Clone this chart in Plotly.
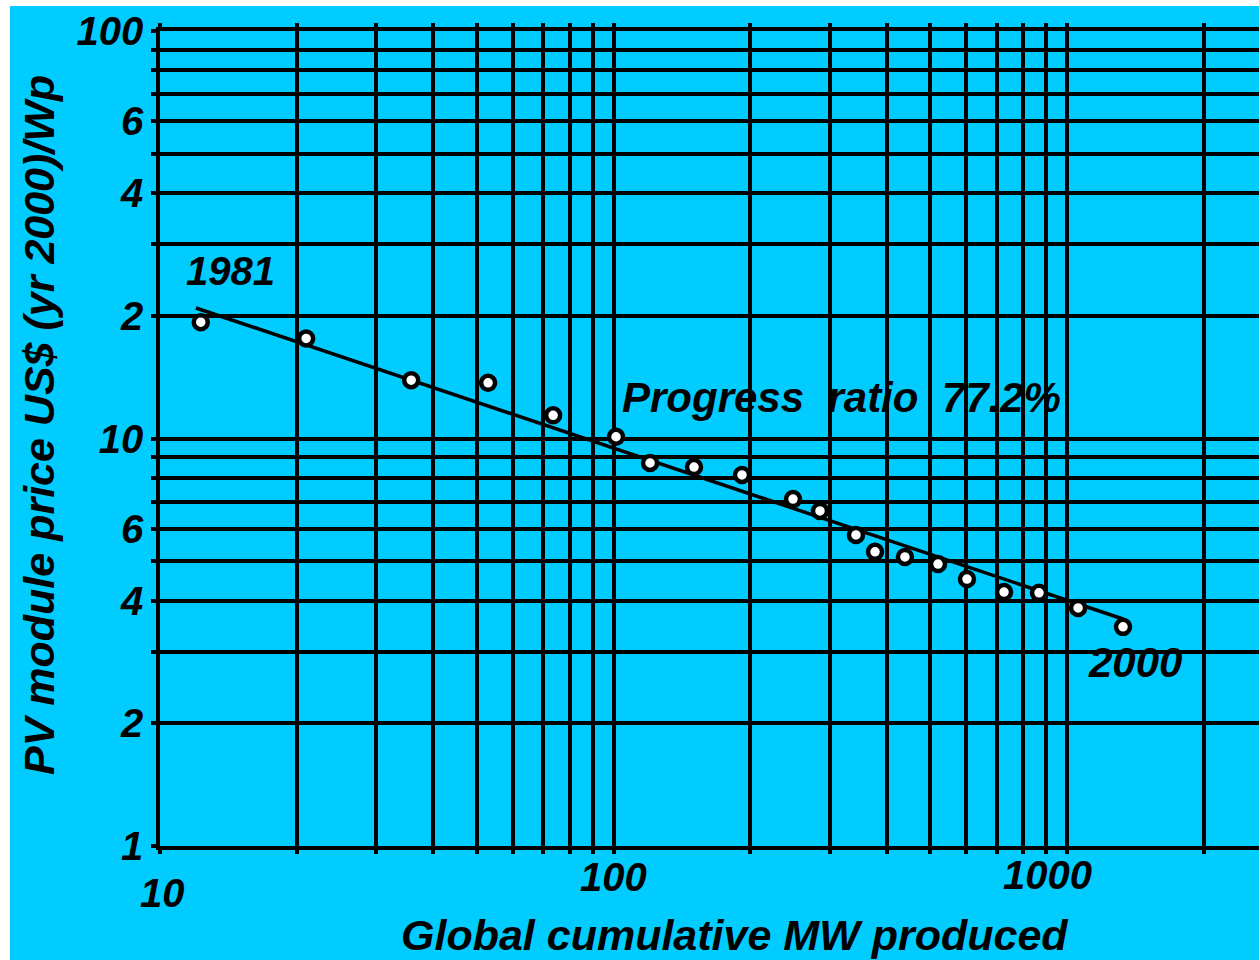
import numpy as np
import plotly.graph_objects as go

# Global cumulative PV production (MW) and module price (US$ 2000 per Wp), 1981-2000
years = list(range(1981, 2001))
cumulative_mw = [12.3, 21.0, 35.8, 52.9, 73.6, 101.3, 120.4, 150.5, 192.0, 248.8,
                 285.3, 342.5, 377.3, 439.2, 519.5, 601.8, 726.3, 867.5, 1058.0, 1329.0]
price_usd_wp = [19.3, 17.6, 13.9, 13.7, 11.4, 10.1, 8.71, 8.51, 8.14, 7.10,
                6.64, 5.80, 5.27, 5.12, 4.92, 4.52, 4.20, 4.18, 3.84, 3.45]

progress_ratio = 0.772
fit_start_mw = 12.0

# Experience curve: price falls by the progress ratio with every doubling of output,
# anchored at the geometric mean of the observations.
b = np.log2(progress_ratio)
lx = np.log10(cumulative_mw)
ly = np.log10(price_usd_wp)
fit_x = np.array([fit_start_mw, cumulative_mw[-1]])
fit_y = 10 ** (ly.mean() + b * (np.log10(fit_x) - lx.mean()))

y_grid = [1, 2, 3, 4, 5, 6, 7, 8, 9, 10, 20, 30, 40, 50, 60, 70, 80, 90, 100]
y_text = ["1", "2", "", "4", "", "6", "", "", "", "10", "2", "", "4", "", "6", "", "", "", "100"]
x_grid = [10, 20, 30, 40, 50, 60, 70, 80, 90, 100, 200, 300, 400, 500, 600, 700,
          800, 900, 1000, 2000]
x_labels = [10, 100, 1000]

BG = "#00CCFF"
FONT = dict(family="Liberation Sans, Arial, sans-serif", color="black",
            weight="bold", style="italic")

W, H = 1259, 960
ML, MR, MT, MB = 160, 0, 31, 114
PW, PH = W - ML - MR, H - MT - MB


def px(x):
    return (x - ML) / PW


def py(y):
    return (H - MB - y) / PH


fig = go.Figure()
fig.add_trace(go.Scatter(x=fit_x, y=fit_y, mode="lines",
                         line=dict(color="black", width=3.5), hoverinfo="skip",
                         showlegend=False))
fig.add_trace(go.Scatter(x=cumulative_mw, y=price_usd_wp, mode="markers",
                         text=years,
                         marker=dict(size=14, color="white",
                                     line=dict(color="black", width=4.5)),
                         showlegend=False))

fig.update_xaxes(type="log", range=[1, 1 + PW / 453.5],
                 tickvals=x_grid, showticklabels=False,
                 showgrid=True, gridcolor="black", gridwidth=3.5,
                 showline=True, linecolor="black", linewidth=3.5, mirror="ticks",
                 ticks="outside", ticklen=4, tickwidth=3.5, tickcolor="black",
                 zeroline=False)
fig.update_yaxes(type="log", range=[0, 2],
                 tickvals=y_grid, ticktext=y_text,
                 tickfont=dict(size=40, **FONT),
                 showgrid=True, gridcolor="black", gridwidth=3.5,
                 showline=True, linecolor="black", linewidth=3.5,
                 ticks="outside", ticklen=5, tickwidth=3.5, tickcolor="black",
                 zeroline=False)

annotations = []
# x tick labels, staggered under the decades
for val, ypix, shift in zip(x_labels, [893, 877, 875], [2, 0, -20]):
    annotations.append(dict(x=np.log10(val), xref="x", y=py(ypix), yref="paper",
                            text=str(val), showarrow=False, xshift=shift,
                            xanchor="center", yanchor="middle",
                            font=dict(size=40, **FONT)))


def label(xp, yp, text, size, **kw):
    return dict(x=px(xp), y=py(yp), xref="paper", yref="paper", text=text,
                showarrow=False, xanchor="center", yanchor="middle",
                font=dict(size=size, **FONT), **kw)


annotations += [
    label(735, 935, "Global cumulative MW produced", 43),
    label(39, 425, "PV module price US$ (yr 2000)/Wp", 43, textangle=-90),
    label(230, 271, str(years[0]), 40),
    label(1135, 662, str(years[-1]), 42),
    label(841, 398, f"Progress&nbsp; ratio&nbsp; {progress_ratio * 100:.1f}%", 42),
]

# white page border at top and left
shapes = [
    dict(type="rect", xref="paper", yref="paper", x0=px(0), x1=px(10),
         y0=py(H), y1=py(0), fillcolor="white", line=dict(width=0)),
    dict(type="rect", xref="paper", yref="paper", x0=px(0), x1=px(W),
         y0=py(6), y1=py(0), fillcolor="white", line=dict(width=0)),
]

fig.update_layout(width=W, height=H, autosize=False,
                  margin=dict(l=ML, r=MR, t=MT, b=MB, pad=0),
                  paper_bgcolor=BG, plot_bgcolor=BG,
                  annotations=annotations, shapes=shapes,
                  font=FONT)

fig.write_html("out.html")
